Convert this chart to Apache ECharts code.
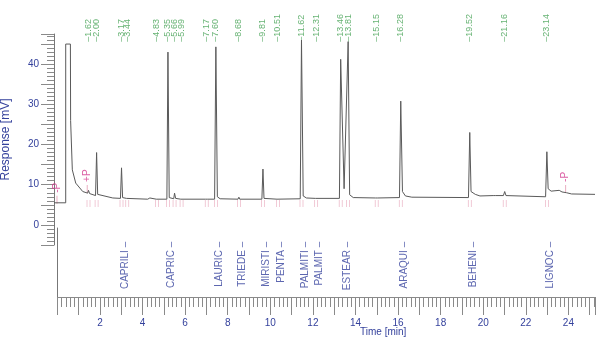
<!DOCTYPE html>
<html>
<head>
<meta charset="utf-8">
<script src="https://cdn.jsdelivr.net/npm/echarts@6/dist/echarts.min.js"></script>
<style>html,body{margin:0;padding:0;background:#fff}#c{width:600px;height:342px}</style>
</head>
<body>
<div id="c"></div>
<script>
// Chromatogram trace: time (min) and response (mV)
const traceTime = [0.00,0.55,0.55,0.77,0.78,0.86,1.02,1.35,1.58,1.62,1.67,1.95,2.00,2.05,2.12,2.76,3.12,3.17,3.22,3.40,3.44,3.49,4.40,4.50,4.55,4.80,4.83,4.87,5.30,5.35,5.41,5.50,5.62,5.66,5.71,5.95,5.99,6.04,7.12,7.17,7.22,7.54,7.60,7.67,7.80,8.64,8.68,8.72,9.76,9.81,9.86,10.47,10.51,10.55,11.56,11.62,11.70,11.85,12.27,12.31,12.35,13.40,13.46,13.62,13.81,13.88,14.05,15.10,15.15,15.20,16.22,16.28,16.36,16.50,16.80,19.46,19.52,19.58,19.78,20.00,20.62,20.68,20.74,21.10,21.16,21.22,23.08,23.14,23.20,23.34,23.72,23.85,24.07,24.30,25.40];
const traceValue = [5.5,5.5,45,45,26,13.7,10.4,8.3,7.9,8.6,7.8,7.3,18.0,7.6,7.2,6.7,6.6,14.2,6.8,6.6,7.0,6.6,6.4,6.7,6.4,6.4,6.7,6.4,6.4,43.0,6.8,6.5,6.5,7.9,6.6,6.4,6.8,6.4,6.4,6.8,6.4,6.4,44.3,7.0,6.5,6.4,6.9,6.4,6.4,13.9,6.6,6.4,6.6,6.4,6.5,46.0,7.2,6.7,6.6,6.8,6.6,6.6,41.2,9.0,45.6,7.5,6.8,6.7,7.0,6.7,6.8,30.8,8.3,7.2,6.9,6.8,23.0,8.3,7.6,7.2,7.3,7.7,7.3,7.3,8.3,7.3,7.0,18.2,9.0,8.4,8.6,8.2,8.0,7.7,7.6];

// Retention times printed at the top
const retentionTimes = [1.62,2.00,3.17,3.44,4.83,5.35,5.66,5.99,7.17,7.60,8.68,9.81,10.51,11.62,12.31,13.46,13.81,15.15,16.28,19.52,21.16,23.14];

// Compound names at the bottom and their times
const compoundNames = ['CAPRILI','CAPRIC','LAURIC','TRIEDE','MIRISTI','PENTA','PALMITI','PALMIT','ESTEAR','ARAQUI','BEHENI','LIGNOC'];
const compoundTimes = [3.17,5.35,7.60,8.68,9.81,10.51,11.62,12.31,13.60,16.28,19.52,23.14];

// Integration events
const eventTimes = [0.14,1.56,24.02];
const eventLabels = ['-P','+P','-P'];
const eventLevels = [8.0,10.7,10.7];

const BLUE = '#34419c', GREEN = '#3f9f4f', PINK = '#d2378d', GRAY = '#8a8a8a';
const FONT = 'Liberation Sans, Arial, sans-serif';

const traceData = traceTime.map((t, i) => [t, traceValue[i]]);
const RT_LABEL_LEVEL = 45.6;
const NAME_LEVEL = 0.8;

const chart = echarts.init(document.getElementById('c'), null, {renderer: 'canvas'});
chart.setOption({
  animation: false,
  backgroundColor: '#fff',
  textStyle: {fontFamily: FONT},
  grid: [
    {left: 54, right: 5, top: 34, bottom: 97, containLabel: false, outerBoundsMode: 'none'},
    {left: 57.4, right: 5, top: 228, bottom: 45, containLabel: false, outerBoundsMode: 'none'}
  ],
  xAxis: [
    {gridIndex: 0, type: 'value', min: 0, max: 25.4, show: false},
    {gridIndex: 1, type: 'value', min: 0, max: 25.25, interval: 1,
     axisLine: {show: true, onZero: false, lineStyle: {color: GRAY, width: 1}},
     axisTick: {show: true, length: 18, lineStyle: {color: GRAY}},
     minorTick: {show: true, splitNumber: 5, length: 10, lineStyle: {color: GRAY}},
     splitLine: {show: false},
     axisLabel: {color: BLUE, fontSize: 10, margin: 21, fontFamily: FONT,
                 formatter: v => (v % 2 === 0 && v > 0) ? String(v) : ''}}
  ],
  yAxis: [
    {gridIndex: 0, type: 'value', min: -5, max: 47.5, interval: 5,
     name: 'Response [mV]', nameLocation: 'middle', nameGap: 42,
     nameTextStyle: {color: BLUE, fontSize: 12, fontFamily: FONT},
     axisLine: {show: true, onZero: false, lineStyle: {color: '#777', width: 1}},
     axisTick: {show: true, length: 13, lineStyle: {color: GRAY}},
     minorTick: {show: true, splitNumber: 5, length: 7, lineStyle: {color: GRAY}},
     splitLine: {show: false},
     axisLabel: {color: BLUE, fontSize: 10, margin: 15, fontFamily: FONT,
                 formatter: v => (v % 10 === 0) ? String(v) : ''}},
    {gridIndex: 1, type: 'value', min: 0, max: 1,
     axisLine: {show: true, onZero: false, lineStyle: {color: '#777', width: 1}},
     axisTick: {show: false}, axisLabel: {show: false}, splitLine: {show: false}}
  ],
  graphic: [
    {type: 'text', left: 360, top: 327, style: {text: 'Time [min]', fill: BLUE, font: '10px ' + FONT}}
  ],
  series: [
    {type: 'line', xAxisIndex: 0, yAxisIndex: 0, data: traceData, showSymbol: false,
     lineStyle: {color: '#5a5a5a', width: 1}, z: 5},
    {type: 'scatter', xAxisIndex: 0, yAxisIndex: 0, symbolSize: 1,
     itemStyle: {color: 'rgba(0,0,0,0)'},
     data: retentionTimes.map(t => [t, RT_LABEL_LEVEL]),
     label: {show: true, position: 'inside', rotate: 90, align: 'left', verticalAlign: 'middle',
             color: GREEN, fontSize: 9, fontFamily: FONT,
             formatter: p => '\u2013' + p.value[0].toFixed(2)}},
    {type: 'scatter', xAxisIndex: 0, yAxisIndex: 0,
     symbol: 'path://M0,0V10M4,0V10', symbolSize: [3, 7], symbolKeepAspect: false,
     itemStyle: {color: 'rgba(0,0,0,0)', borderColor: '#e49ab0', borderWidth: 1},
     data: retentionTimes.map(t => [t, 5.35]), z: 3},
    {type: 'scatter', xAxisIndex: 0, yAxisIndex: 0, symbol: 'rect', symbolSize: [1, 8],
     symbolOffset: [0, 7],
     itemStyle: {color: '#e49ab0'},
     data: eventTimes.map((t, i) => [t, eventLevels[i]])},
    {type: 'scatter', xAxisIndex: 0, yAxisIndex: 0, symbolSize: 1,
     itemStyle: {color: 'rgba(0,0,0,0)'},
     data: eventTimes.map((t, i) => [t, eventLevels[i]]),
     label: {show: true, position: 'inside', rotate: 90, align: 'left', verticalAlign: 'middle',
             color: PINK, fontSize: 10, fontFamily: FONT,
             formatter: p => eventLabels[p.dataIndex]}},
    {type: 'scatter', xAxisIndex: 1, yAxisIndex: 1, symbolSize: 1,
     itemStyle: {color: 'rgba(0,0,0,0)'},
     data: compoundTimes.map(t => [t, NAME_LEVEL]),
     label: {show: true, position: 'inside', rotate: 90, align: 'right', verticalAlign: 'middle',
             color: BLUE, fontSize: 10, fontFamily: FONT,
             formatter: p => compoundNames[p.dataIndex] + ' \u2013'}}
  ]
});
</script>
</body>
</html>
